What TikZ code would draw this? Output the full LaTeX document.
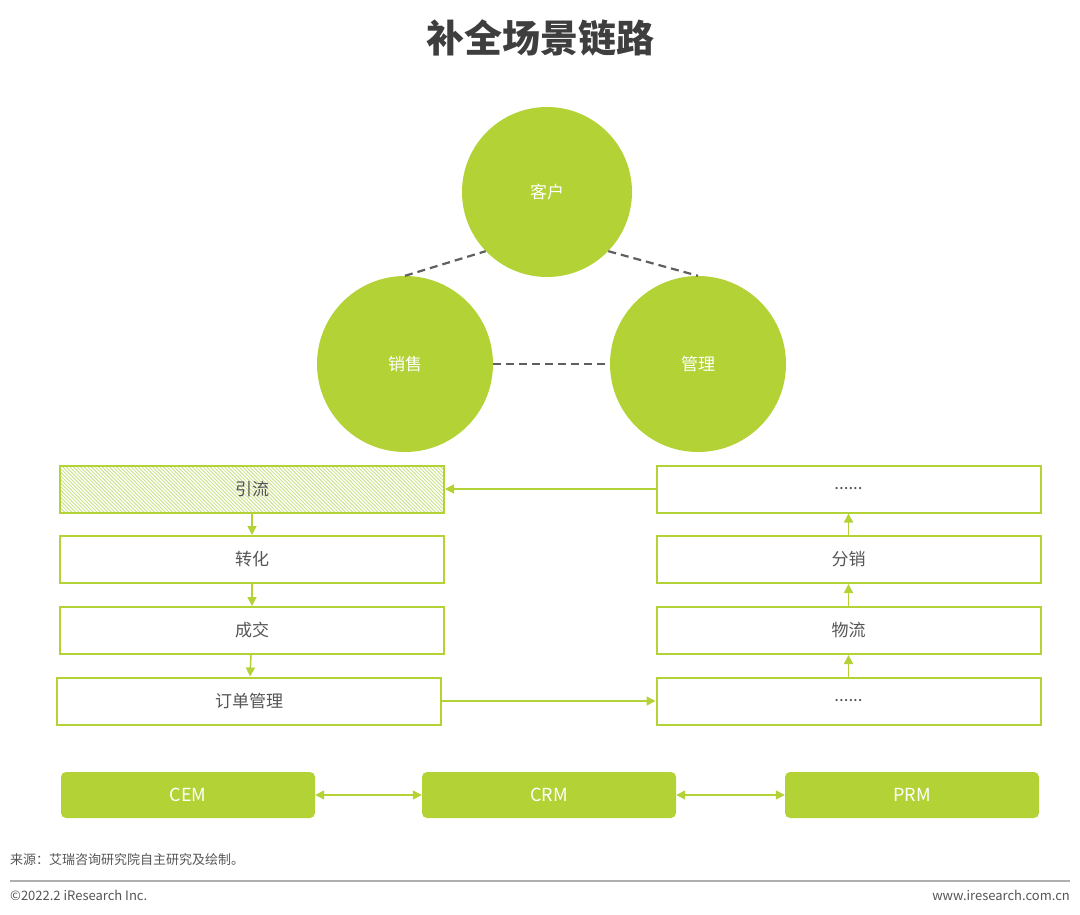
\documentclass[tikz,border=0pt]{standalone}
\usepackage{fontspec}
\usepackage{xcolor}
\usepackage{tikz}
\usetikzlibrary{arrows.meta,positioning,calc}
\newfontfamily\cjk{Noto Sans CJK SC}
\definecolor{leafgreen}{RGB}{178,210,53}
\definecolor{hatchgreen}{RGB}{200,225,130}
\definecolor{textgray}{RGB}{85,85,85}
\definecolor{titlegray}{RGB}{62,62,62}
\definecolor{dashgray}{RGB}{95,95,95}
\definecolor{rulegray}{RGB}{175,175,175}
\tikzset{
  bubble/.style={circle, fill=leafgreen, inner sep=0pt, text=white, font=\cjk\fontsize{17}{20}\selectfont},
  stagebox/.style={rectangle, draw=leafgreen, line width=2pt, fill=white, minimum width=384pt, minimum height=47pt, inner sep=0pt, text=textgray, font=\cjk\fontsize{17}{20}\selectfont},
  hatchbox/.style={stagebox, path picture={
      \foreach \k in {0,...,125}
        \draw[hatchgreen, line width=0.8pt]
          ($(path picture bounding box.north west)+(\k*3.6pt-60pt,0)$) -- ++(60pt,-60pt);
    }},
  sysbox/.style={rectangle, rounded corners=5pt, fill=leafgreen, minimum width=254pt, minimum height=46pt, inner sep=0pt, text=white, font=\cjk\fontsize{18}{21}\selectfont},
  flow/.style={-{Triangle[length=9pt,width=9pt]}, leafgreen, line width=1.5pt},
  link/.style={{Triangle[length=9pt,width=9pt]}-{Triangle[length=9pt,width=9pt]}, leafgreen, line width=1.5pt},
  tie/.style={dash pattern=on 8pt off 5pt, dashgray, line width=2.2pt},
  note/.style={text=textgray, inner sep=0pt, font=\cjk\fontsize{13}{15}\selectfont}
}
\begin{document}
\begin{tikzpicture}[x=1pt,y=-1pt]
  \useasboundingbox (0,0) rectangle (1080,915);
  % Title
  \node[text=titlegray, font=\cjk\bfseries\fontsize{38}{44}\selectfont] (title) at (540,38) {补全场景链路};

  % Three circles
  \node[bubble, minimum size=170pt] (cust) at (547,192) {客户};
  \node[bubble, minimum size=176pt] (sales) at (405,364) {销售};
  \node[bubble, minimum size=176pt] (manage) at (698,364) {管理};
  \draw[tie] (sales.north) -- (cust.224);
  \draw[tie] (cust.316) -- (manage.north);
  \draw[tie] (sales) -- (manage);

  % Left chain
  \node[hatchbox] (lead) at (252,489) {引流};
  \node[stagebox] (convert) at (252,559.5) {转化};
  \node[stagebox] (deal) at (252,630.5) {成交};
  \node[stagebox] (order) at (249,701) {订单管理};
  \draw[flow] (lead) -- (convert);
  \draw[flow] (convert) -- (deal);
  \draw[flow] (deal) -- (order);

  % Right chain
  \node[stagebox] (rtop) at (848.5,489) {......};
  \node[stagebox] (distrib) at (848.5,559.5) {分销};
  \node[stagebox] (logistic) at (848.5,630.5) {物流};
  \node[stagebox] (rbot) at (848.5,701) {......};
  \draw[flow] (rbot) -- (logistic);
  \draw[flow] (logistic) -- (distrib);
  \draw[flow] (distrib) -- (rtop);
  \draw[flow] (order) -- (rbot);
  \draw[flow] (rtop) -- (lead);

  % Systems
  \node[sysbox] (cem) at (188,795) {CEM};
  \node[sysbox] (crm) at (549,795) {CRM};
  \node[sysbox] (prm) at (912,795) {PRM};
  \draw[link] (cem) -- (crm);
  \draw[link] (crm) -- (prm);

  % Source and footer
  \node[note, anchor=west] (src) at (10,860) {来源：艾瑞咨询研究院自主研究及绘制。};
  \draw[rulegray, line width=1.5pt] (10,881) -- (1070,881);
  \node[note, anchor=west] (copy) at (10,895) {©2022.2 iResearch Inc.};
  \node[note, anchor=east] (site) at (1070,895) {www.iresearch.com.cn};
\end{tikzpicture}
\end{document}
